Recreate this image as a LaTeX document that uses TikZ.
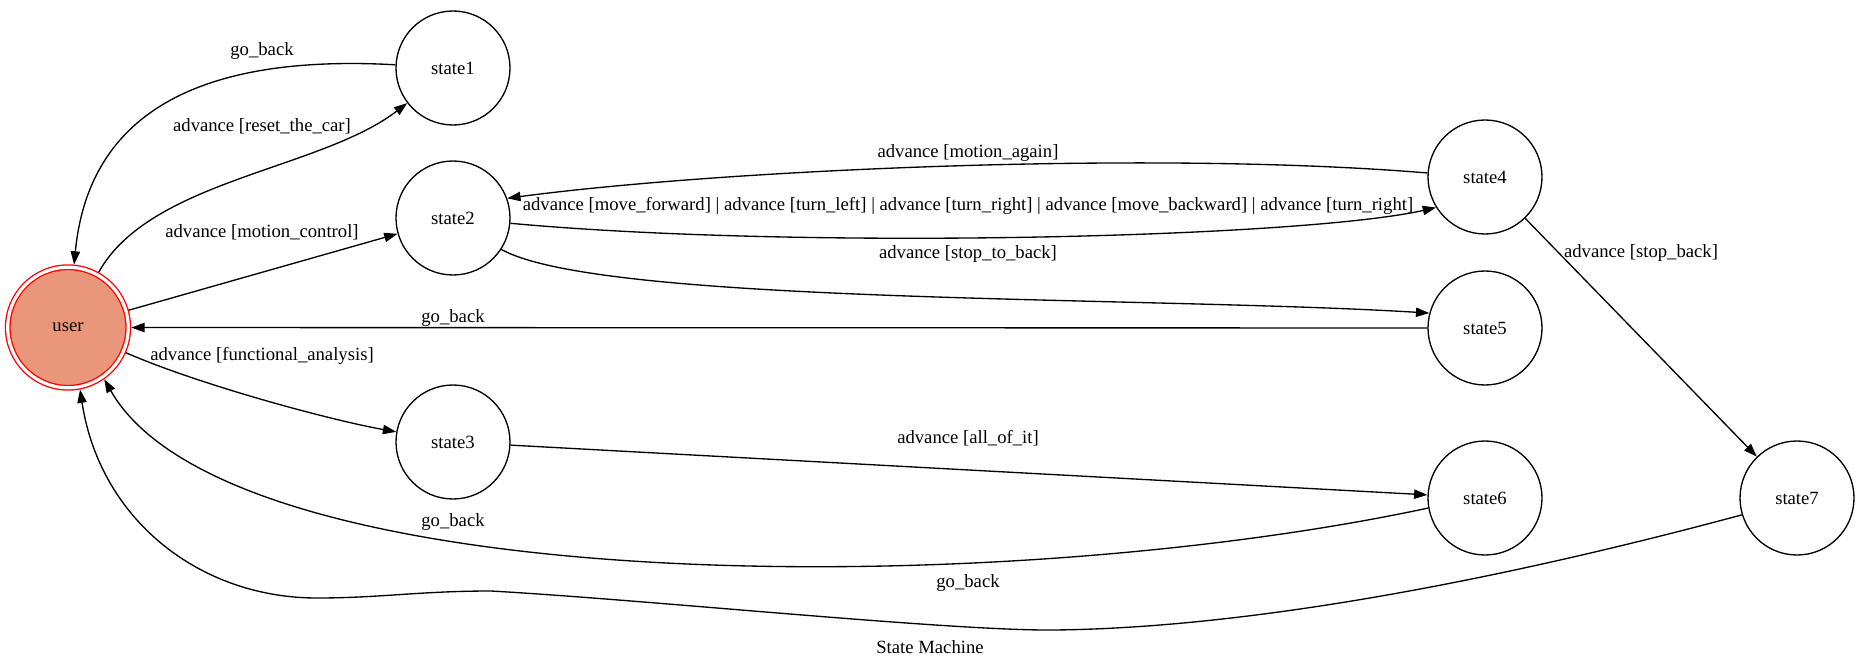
\documentclass[tikz,border=0pt]{standalone}
\usepackage{fontspec}
\setmainfont{Liberation Serif}
\usepackage{xcolor}
\usetikzlibrary{arrows.meta}
\definecolor{usersalmon}{HTML}{E9967A}

\begin{document}
\begin{tikzpicture}[x=0.75pt,y=-0.75pt,every node/.style={font=\fontsize{14}{17}\selectfont},statenode/.style={circle,draw,line width=1pt,minimum size=85.5pt,inner sep=0pt},usernode/.style={circle,draw=red,fill=usersalmon,line width=1pt,double=white,double distance=2.4pt,minimum size=90.4pt,inner sep=0pt,outer sep=2.2pt},trans/.style={draw,line width=1pt,-{Triangle[length=10pt,width=7pt]}}]
    \useasboundingbox (0,0) rectangle (1860,667);
    \node[usernode] (user) at (68,327.5) {user};
    \node[statenode] (st1) at (453,68) {state1};
    \node[statenode] (st2) at (453,218) {state2};
    \node[statenode] (st3) at (453,442) {state3};
    \node[statenode] (st4) at (1485,177) {state4};
    \node[statenode] (st5) at (1485,328) {state5};
    \node[statenode] (st6) at (1485,498) {state6};
    \node[statenode] (st7) at (1797,498) {state7};
    % transitions
    \draw[trans] (st1) .. controls (220,55) and (90,100) .. (user) node at (262,51) {go\_back};
    \draw[trans] (user) .. controls (150,180) and (320,170) .. (st1) node at (262,126) {advance [reset\_the\_car]};
    \draw[trans] (user) -- (st2) node at (262,232) {advance [motion\_control]};
    \draw[trans] (user) .. controls (200,385) and (330,420) .. (st3) node at (262,356) {advance [functional\_analysis]};
    \draw[trans] (st2) .. controls (800,250) and (1300,238) .. (st4.212) node at (968,206) {advance [move\_forward] | advance [turn\_left] | advance [turn\_right] | advance [move\_backward] | advance [turn\_right]};
    \draw[trans] (st4.176) .. controls (1150,150) and (720,170) .. (st2.20) node at (968,153) {advance [motion\_again]};
    \draw[trans] (st2.327) .. controls (600,305) and (1150,296) .. (st5.165) node at (968,254) {advance [stop\_to\_back]};
    \draw[trans] (st5) -- (user) node at (453,318) {go\_back};
    \draw[trans] (st3) -- (st6) node at (968,438) {advance [all\_of\_it]};
    \draw[trans] (st4) -- (st7) node at (1641,253) {advance [stop\_back]};
    \draw[trans] (st6.190) .. controls (1000,600) and (230,600) .. (user.305) node at (453,522) {go\_back};
    \draw[trans] (st7.197) .. controls (1500,580) and (1250,628) .. (1054,630) .. controls (950,631) and (650,600) .. (491,591) .. controls (420,591) and (380,598) .. (317,598) .. controls (200,598) and (100,520) .. (user.281) node at (968,583) {go\_back};
    \node (title) at (930,647) {State Machine};
\end{tikzpicture}
\end{document}
